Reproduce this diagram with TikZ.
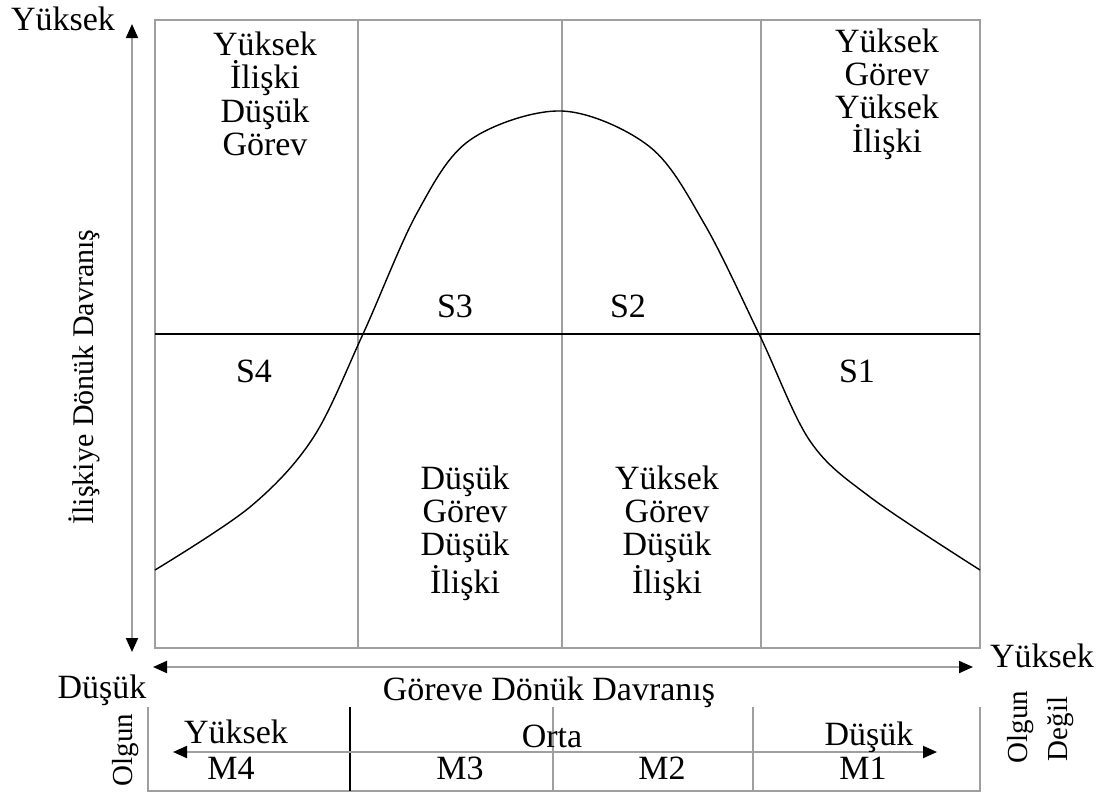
\documentclass[tikz,border=0pt]{standalone}
\usepackage{fontspec}
\setmainfont{Liberation Serif}
\usetikzlibrary{arrows.meta, positioning}

\begin{document}
\begin{tikzpicture}[x=0.5pt,y=-0.5pt,
	lbl/.style={inner sep=0pt, font=\fontsize{17}{16.7}\selectfont, align=center},
	sidelbl/.style={inner sep=0pt, font=\fontsize{14.5}{15}\selectfont, rotate=90, anchor=base},
	frame/.style={draw=gray!75, line width=1pt},
	axis/.style={draw=gray!75, line width=1pt, {Triangle[length=7pt,width=6pt,black]}-{Triangle[length=7pt,width=6pt,black]}}]
	\useasboundingbox (0,0) rectangle (1100,794);
	
	% Kutu
	\draw[frame] (155,20) rectangle (980,648);
	\foreach \x in {358,562,761}
		\draw[frame] (\x,20) -- (\x,648);
	\draw[line width=0.6pt] (155,334) -- (980,334);
	
	% Egri
	\draw[line width=0.7pt] plot[smooth, tension=0.55] coordinates {(155,570) (250,507) (313,438) (363,334) (417,213) (470,140) (562,111) (650,147) (705,225) (760,336) (810,441) (870,497) (980,570)};
	
	% Eksenler
	\coordinate (yTop) at (132,24);
	\coordinate (yBot) at (132,652);
	\coordinate (xLeft) at (153,667);
	\coordinate (xRight) at (973,667);
	\draw[axis] (yBot) -- (yTop);
	\draw[axis] (xLeft) -- (xRight);
	
	% Eksen etiketleri
	\node[lbl, anchor=base] (yHigh) at (63,30) {Yüksek};
	\node[lbl, anchor=base, rotate=90, font=\fontsize{15}{16}\selectfont] (yLabel) at (93,377) {İlişkiye Dönük Davranış};
	\node[lbl, anchor=base] (xHigh) at (1042,667) {Yüksek};
	\node[lbl, anchor=base] (xLow) at (102,698) {Düşük};
	\node[lbl, anchor=base] (xLabel) at (549,700) {Göreve Dönük Davranış};
	
	% Hucreler
	\node[lbl] (cellTL) at (265,94) {Yüksek\\İlişki\\Düşük\\Görev};
	\node[lbl] (cellTR) at (887,94) {Yüksek\\Görev\\Yüksek\\İlişki};
	\node[lbl] (cellBL) at (465,533) {Düşük\\Görev\\Düşük\\İlişki};
	\node[lbl] (cellBR) at (667,533) {Yüksek\\Görev\\Düşük\\İlişki};
	\node[lbl, anchor=base] (s3) at (455,317) {S3};
	\node[lbl, anchor=base] (s2) at (628,317) {S2};
	\node[lbl, anchor=base] (s4) at (254,382) {S4};
	\node[lbl, anchor=base] (s1) at (857,382) {S1};
	
	% Olgunluk
	\draw[frame] (148,707) -- (148,791) -- (980,791) -- (980,707);
	\foreach \x in {553,753}
		\draw[frame] (\x,707) -- (\x,791);
	\draw[line width=1.2pt] (350,707) -- (350,791);
	\coordinate (mLeft) at (173,752);
	\coordinate (mRight) at (937,752);
	\draw[axis] (mLeft) -- (mRight);
	\node[lbl, anchor=base] (mHigh) at (236,743) {Yüksek};
	\node[lbl, anchor=base] (mMid) at (552,747) {Orta};
	\node[lbl, anchor=base] (mLow) at (869,745) {Düşük};
	\node[lbl, anchor=base] (m4) at (231,779) {M4};
	\node[lbl, anchor=base] (m3) at (460,779) {M3};
	\node[lbl, anchor=base] (m2) at (662,779) {M2};
	\node[lbl, anchor=base] (m1) at (863,779) {M1};
	\node[sidelbl] (ripe) at (133,750) {Olgun};
	\node[sidelbl] (unripeA) at (1027,727) {Olgun};
	\node[sidelbl] (unripeB) at (1067,729) {Değil};
\end{tikzpicture}
\end{document}
